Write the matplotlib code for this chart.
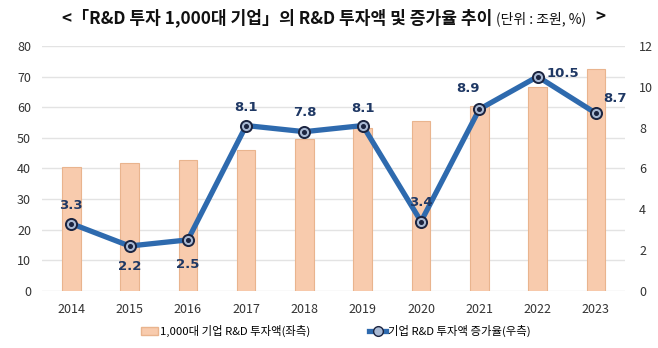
import matplotlib
matplotlib.use("Agg")
import matplotlib.pyplot as plt
from matplotlib.lines import Line2D
from matplotlib.patches import Patch

plt.rcParams['font.family'] = ['Noto Sans CJK KR', 'DejaVu Sans']

years = ['2014', '2015', '2016', '2017', '2018', '2019', '2020', '2021', '2022', '2023']
invest = [40.6, 41.8, 42.8, 46.0, 49.7, 53.3, 55.4, 60.3, 66.7, 72.6]
growth = [3.3, 2.2, 2.5, 8.1, 7.8, 8.1, 3.4, 8.9, 10.5, 8.7]
left_ticks = [0, 10, 20, 30, 40, 50, 60, 70, 80]
right_ticks = [0, 2, 4, 6, 8, 10, 12]
bar_label = '1,000대 기업 R&D 투자액(좌측)'
line_label = '기업 R&D 투자액 증가율(우측)'
title_bold = '<「R&D 투자 1,000대 기업」의 R&D 투자액 및 증가율 추이'
title_unit = '(단위 : 조원, %)'

fig = plt.figure(figsize=(6.58, 3.48), dpi=100)
ax = fig.add_axes([0.064, 0.164, 0.886, 0.704])
ax2 = ax.twinx()

x = list(range(len(years)))
ax.bar(x, invest, width=0.32, color='#F8CBAD', edgecolor='#E9B48E', linewidth=0.8, zorder=2)
ax.set_ylim(0, 80)
ax.set_yticks(left_ticks)
ax.set_xlim(-0.5, len(years) - 0.5)
ax.set_xticks(x)
ax.set_xticklabels(years)
ax.grid(axis='y', color='#E3E3E3', linewidth=1, zorder=0)
ax.set_axisbelow(True)
for s in ax.spines.values():
    s.set_visible(False)
for s in ax2.spines.values():
    s.set_visible(False)
ax.tick_params(axis='both', length=0, labelsize=9, colors='#333333')
ax.tick_params(axis='x', pad=9)
ax.tick_params(axis='y', pad=8)

ax2.plot(x, growth, color='#2E6AAE', linewidth=3.8, marker='o', markersize=8,
         markerfacecolor='#A9B9D3', markeredgecolor='#1B2440', markeredgewidth=1.4, zorder=3)
ax2.plot(x, growth, linestyle='none', marker='o', markersize=2.6,
         markerfacecolor='#1B2440', markeredgecolor='#1B2440', zorder=4)
ax2.set_ylim(0, 12)
ax2.set_yticks(right_ticks)
ax2.tick_params(axis='y', length=0, labelsize=9, colors='#333333', pad=10)

offsets = [(0, 13), (0, -15), (0, -18), (0, 13), (0, 14), (0, 12), (0, 14), (-8, 15), (18, 2), (14, 11)]
for xi, g, (dx, dy) in zip(x, growth, offsets):
    ax2.annotate(f'{g}', (xi, g), xytext=(dx, dy), textcoords='offset points',
                 ha='center', va='center', fontsize=9.5, fontweight='bold', color='#1F3864',
                 family=['DejaVu Sans'])

handles = [Patch(facecolor='#F8CBAD', edgecolor='#E9B48E'),
           Line2D([0], [0], color='#2E6AAE', linewidth=3.8, marker='o', markersize=7,
                  markerfacecolor='#A9B9D3', markeredgecolor='#1B2440')]
fig.legend(handles, [bar_label, line_label], loc='center', bbox_to_anchor=(0.51, 0.048),
           ncol=2, frameon=False, fontsize=8.2, handlelength=1.5, handletextpad=0.15,
           columnspacing=5.2)

t1 = fig.text(0.094, 0.95, title_bold, fontsize=12.3, fontweight='bold', ha='left', va='center', color='#111111')
fig.canvas.draw()
r = fig.canvas.get_renderer()
bb = t1.get_window_extent(r)
x1 = bb.x1 / fig.bbox.width
t2 = fig.text(x1 + 0.006, 0.946, title_unit, fontsize=10, ha='left', va='center', color='#111111')
bb2 = t2.get_window_extent(r)
x2 = bb2.x1 / fig.bbox.width
fig.text(x2 + 0.014, 0.95, '>', fontsize=12.3, fontweight='bold', ha='left', va='center', color='#111111')

fig.savefig('out.png', dpi=100)
